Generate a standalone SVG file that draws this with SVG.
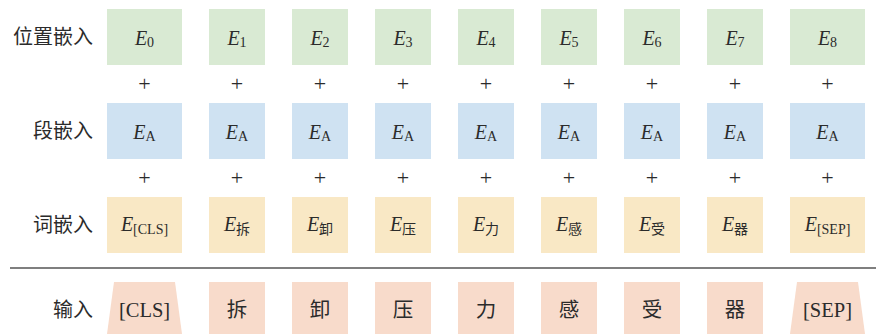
<svg xmlns="http://www.w3.org/2000/svg" width="877" height="334" viewBox="0 0 877 334">
<style>
.g{fill:#d9ead3}.b{fill:#cfe2f2}.y{fill:#f9e8c5}.p{fill:#f8dbcb}
text{font-family:"Liberation Serif","Noto Sans CJK SC",serif;fill:#2b2b2b}
.lbl{font-size:20px;text-anchor:end}
.e{font-size:20px;font-style:italic;text-anchor:middle}
.s{font-size:14px;font-style:normal}
.plus{font-size:22px;text-anchor:middle}
.in{font-size:20.5px;text-anchor:middle}
</style>
<rect width="877" height="334" fill="#fff"/>
<g id="labels">
<text class="lbl" x="93" y="44">位置嵌入</text>
<text class="lbl" x="93" y="138">段嵌入</text>
<text class="lbl" x="93" y="232">词嵌入</text>
<text class="lbl" x="93" y="317">输入</text>
</g>
<g id="connectors">
<line x1="10" y1="268" x2="876" y2="268" stroke="#555" stroke-width="1.5"/>
<g class="plusrow">
<text class="plus" x="144.5" y="91">+</text><text class="plus" x="237" y="91">+</text><text class="plus" x="320" y="91">+</text><text class="plus" x="403" y="91">+</text><text class="plus" x="486" y="91">+</text><text class="plus" x="569" y="91">+</text><text class="plus" x="652" y="91">+</text><text class="plus" x="735" y="91">+</text><text class="plus" x="827.5" y="91">+</text>
<text class="plus" x="144.5" y="185">+</text><text class="plus" x="237" y="185">+</text><text class="plus" x="320" y="185">+</text><text class="plus" x="403" y="185">+</text><text class="plus" x="486" y="185">+</text><text class="plus" x="569" y="185">+</text><text class="plus" x="652" y="185">+</text><text class="plus" x="735" y="185">+</text><text class="plus" x="827.5" y="185">+</text>
</g>
</g>
<g id="pos">
<g id="pos0"><rect class="g" x="107" y="9" width="75" height="56"/><text class="e" x="144.5" y="45">E<tspan class="s" dy="2">0</tspan></text></g>
<g id="pos1"><rect class="g" x="209" y="9" width="56" height="56"/><text class="e" x="237" y="45">E<tspan class="s" dy="2">1</tspan></text></g>
<g id="pos2"><rect class="g" x="292" y="9" width="56" height="56"/><text class="e" x="320" y="45">E<tspan class="s" dy="2">2</tspan></text></g>
<g id="pos3"><rect class="g" x="375" y="9" width="56" height="56"/><text class="e" x="403" y="45">E<tspan class="s" dy="2">3</tspan></text></g>
<g id="pos4"><rect class="g" x="458" y="9" width="56" height="56"/><text class="e" x="486" y="45">E<tspan class="s" dy="2">4</tspan></text></g>
<g id="pos5"><rect class="g" x="541" y="9" width="56" height="56"/><text class="e" x="569" y="45">E<tspan class="s" dy="2">5</tspan></text></g>
<g id="pos6"><rect class="g" x="624" y="9" width="56" height="56"/><text class="e" x="652" y="45">E<tspan class="s" dy="2">6</tspan></text></g>
<g id="pos7"><rect class="g" x="707" y="9" width="56" height="56"/><text class="e" x="735" y="45">E<tspan class="s" dy="2">7</tspan></text></g>
<g id="pos8"><rect class="g" x="790" y="9" width="75" height="56"/><text class="e" x="827.5" y="45">E<tspan class="s" dy="2">8</tspan></text></g>
</g>
<g id="seg">
<g id="seg0"><rect class="b" x="107" y="103" width="75" height="56"/><text class="e" x="144.5" y="139">E<tspan class="s" dy="2">A</tspan></text></g>
<g id="seg1"><rect class="b" x="209" y="103" width="56" height="56"/><text class="e" x="237" y="139">E<tspan class="s" dy="2">A</tspan></text></g>
<g id="seg2"><rect class="b" x="292" y="103" width="56" height="56"/><text class="e" x="320" y="139">E<tspan class="s" dy="2">A</tspan></text></g>
<g id="seg3"><rect class="b" x="375" y="103" width="56" height="56"/><text class="e" x="403" y="139">E<tspan class="s" dy="2">A</tspan></text></g>
<g id="seg4"><rect class="b" x="458" y="103" width="56" height="56"/><text class="e" x="486" y="139">E<tspan class="s" dy="2">A</tspan></text></g>
<g id="seg5"><rect class="b" x="541" y="103" width="56" height="56"/><text class="e" x="569" y="139">E<tspan class="s" dy="2">A</tspan></text></g>
<g id="seg6"><rect class="b" x="624" y="103" width="56" height="56"/><text class="e" x="652" y="139">E<tspan class="s" dy="2">A</tspan></text></g>
<g id="seg7"><rect class="b" x="707" y="103" width="56" height="56"/><text class="e" x="735" y="139">E<tspan class="s" dy="2">A</tspan></text></g>
<g id="seg8"><rect class="b" x="790" y="103" width="75" height="56"/><text class="e" x="827.5" y="139">E<tspan class="s" dy="2">A</tspan></text></g>
</g>
<g id="tok">
<g id="tok0"><rect class="y" x="107" y="197" width="75" height="56"/><text class="e" x="144.5" y="231">E<tspan class="s" dy="3">[CLS]</tspan></text></g>
<g id="tok1"><rect class="y" x="209" y="197" width="56" height="56"/><text class="e" x="237" y="231">E<tspan class="s" dy="3">拆</tspan></text></g>
<g id="tok2"><rect class="y" x="292" y="197" width="56" height="56"/><text class="e" x="320" y="231">E<tspan class="s" dy="3">卸</tspan></text></g>
<g id="tok3"><rect class="y" x="375" y="197" width="56" height="56"/><text class="e" x="403" y="231">E<tspan class="s" dy="3">压</tspan></text></g>
<g id="tok4"><rect class="y" x="458" y="197" width="56" height="56"/><text class="e" x="486" y="231">E<tspan class="s" dy="3">力</tspan></text></g>
<g id="tok5"><rect class="y" x="541" y="197" width="56" height="56"/><text class="e" x="569" y="231">E<tspan class="s" dy="3">感</tspan></text></g>
<g id="tok6"><rect class="y" x="624" y="197" width="56" height="56"/><text class="e" x="652" y="231">E<tspan class="s" dy="3">受</tspan></text></g>
<g id="tok7"><rect class="y" x="707" y="197" width="56" height="56"/><text class="e" x="735" y="231">E<tspan class="s" dy="3">器</tspan></text></g>
<g id="tok8"><rect class="y" x="790" y="197" width="75" height="56"/><text class="e" x="827.5" y="231">E<tspan class="s" dy="3">[SEP]</tspan></text></g>
</g>
<g id="input">
<g id="in0"><polygon class="p" points="114,282 175,282 182,334 107,334"/><text class="in" x="144.5" y="317">[CLS]</text></g>
<g id="in1"><rect class="p" x="209" y="282" width="56" height="52"/><text class="in" x="237" y="317">拆</text></g>
<g id="in2"><rect class="p" x="292" y="282" width="56" height="52"/><text class="in" x="320" y="317">卸</text></g>
<g id="in3"><rect class="p" x="375" y="282" width="56" height="52"/><text class="in" x="403" y="317">压</text></g>
<g id="in4"><rect class="p" x="458" y="282" width="56" height="52"/><text class="in" x="486" y="317">力</text></g>
<g id="in5"><rect class="p" x="541" y="282" width="56" height="52"/><text class="in" x="569" y="317">感</text></g>
<g id="in6"><rect class="p" x="624" y="282" width="56" height="52"/><text class="in" x="652" y="317">受</text></g>
<g id="in7"><rect class="p" x="707" y="282" width="56" height="52"/><text class="in" x="735" y="317">器</text></g>
<g id="in8"><polygon class="p" points="797,282 858,282 865,334 790,334"/><text class="in" x="827.5" y="317">[SEP]</text></g>
</g>
</svg>
